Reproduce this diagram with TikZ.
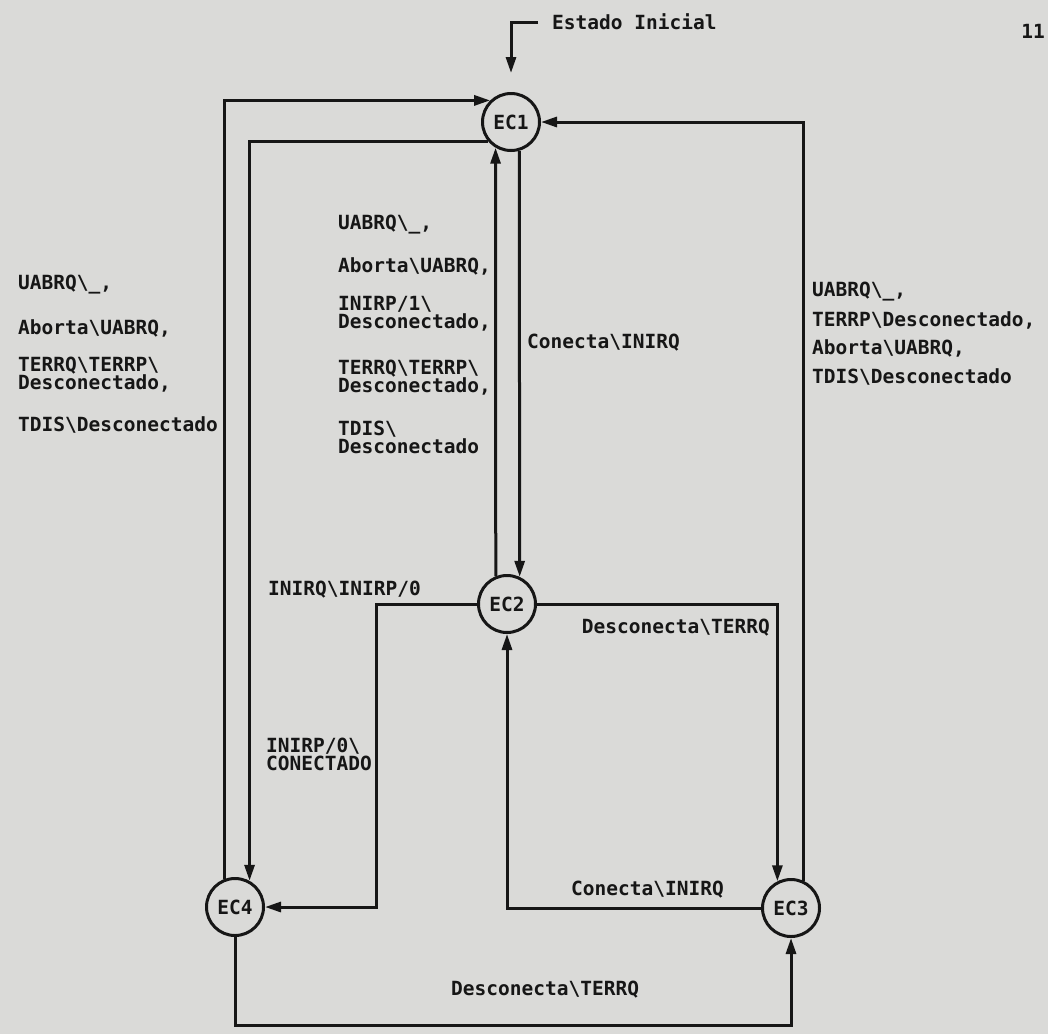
\documentclass[tikz,border=0pt]{standalone}
\usepackage{fontspec}
\setmonofont{DejaVu Sans Mono}
\usetikzlibrary{arrows.meta}
\definecolor{bgcol}{RGB}{218,218,216}
\definecolor{ink}{RGB}{22,22,22}
\newcommand{\bsl}{\textbackslash}
\newcommand{\lblfont}{\ttfamily\bfseries\fontsize{19.5}{18}\selectfont}
\begin{document}
\begin{tikzpicture}[x=1pt,y=-1pt,
  ecnode/.style={circle, draw=ink, line width=3pt, minimum size=57pt, inner sep=0pt, font=\lblfont, text=ink},
  lbl/.style={font=\lblfont, inner sep=0pt, anchor=west, align=left, text=ink},
  conn/.style={draw=ink, line width=3pt},
  arr/.style={-{Triangle[length=16pt,width=10pt]}}]
\fill[bgcol] (0,0) rectangle (1048,1034);
\useasboundingbox (0,0) rectangle (1048,1034);

% states
\node[ecnode] (EC1) at (511,122) {EC1};
\node[ecnode] (EC2) at (507,604) {EC2};
\node[ecnode] (EC3) at (791,908) {EC3};
\node[ecnode] (EC4) at (235,907) {EC4};

% initial state
\node[lbl] (eitxt) at (552,22) {Estado Inicial};
\draw[conn,arr,shorten <=14pt,shorten >=19pt] (eitxt.west) -| (EC1.north);
\node[lbl,anchor=center] (pg) at (1033,31) {11};

% connectors
\draw[conn,arr] (EC4.110) |- (EC1.134);
\draw[conn,arr] (EC1.221) -| (EC4.61);
\draw[conn,arr] (EC2.112) -- (EC1.239);
\draw[conn,arr] (EC1.286) -- (EC2.65);
\draw[conn,arr] (EC3.66) |- (EC1.east);
\draw[conn,arr] (EC2.east) -| (EC3.117);
\draw[conn,arr] (EC3.west) -| (EC2.south);
\coordinate (k24) at (376,907);
\draw[conn,arr] (EC2.west) -| (k24) -- (EC4.east);
\coordinate (k43) at (235,1025);
\draw[conn,arr] (EC4.south) -- (k43) -| (EC3.south);

% left labels (EC4 -> EC1)
\node[lbl] (l1) at (18,285) {UABRQ\bsl\_,};
\node[lbl] (l2) at (18,328) {Aborta\bsl UABRQ,};
\node[lbl] (l3) at (18,375) {TERRQ\bsl TERRP\bsl\\Desconectado,};
\node[lbl] (l4) at (18,425) {TDIS\bsl Desconectado};

% centre labels (EC2 -> EC1)
\node[lbl] (c1) at (338,225) {UABRQ\bsl\_,};
\node[lbl] (c2) at (338,266) {Aborta\bsl UABRQ,};
\node[lbl] (c3) at (338,314) {INIRP/1\bsl\\Desconectado,};
\node[lbl] (c4) at (338,378) {TERRQ\bsl TERRP\bsl\\Desconectado,};
\node[lbl] (c5) at (338,437) {TDIS\bsl\\Desconectado};

% right labels (EC3 -> EC1)
\node[lbl] (r1) at (812,292) {UABRQ\bsl\_,};
\node[lbl] (r2) at (812,320) {TERRP\bsl Desconectado,};
\node[lbl] (r3) at (812,348) {Aborta\bsl UABRQ,};
\node[lbl] (r4) at (812,377) {TDIS\bsl Desconectado};

% other labels
\node[lbl] (t12) at (527,343) {Conecta\bsl INIRQ};
\node[lbl] (t14) at (268,590) {INIRQ\bsl INIRP/0};
\node[lbl] (t24) at (266,754) {INIRP/0\bsl\\CONECTADO};
\node[lbl,anchor=east] (t23) at (770,628) {Desconecta\bsl TERRQ};
\node[lbl] (t32) at (571,890) {Conecta\bsl INIRQ};
\node[lbl] (t43) at (451,990) {Desconecta\bsl TERRQ};
\end{tikzpicture}
\end{document}
